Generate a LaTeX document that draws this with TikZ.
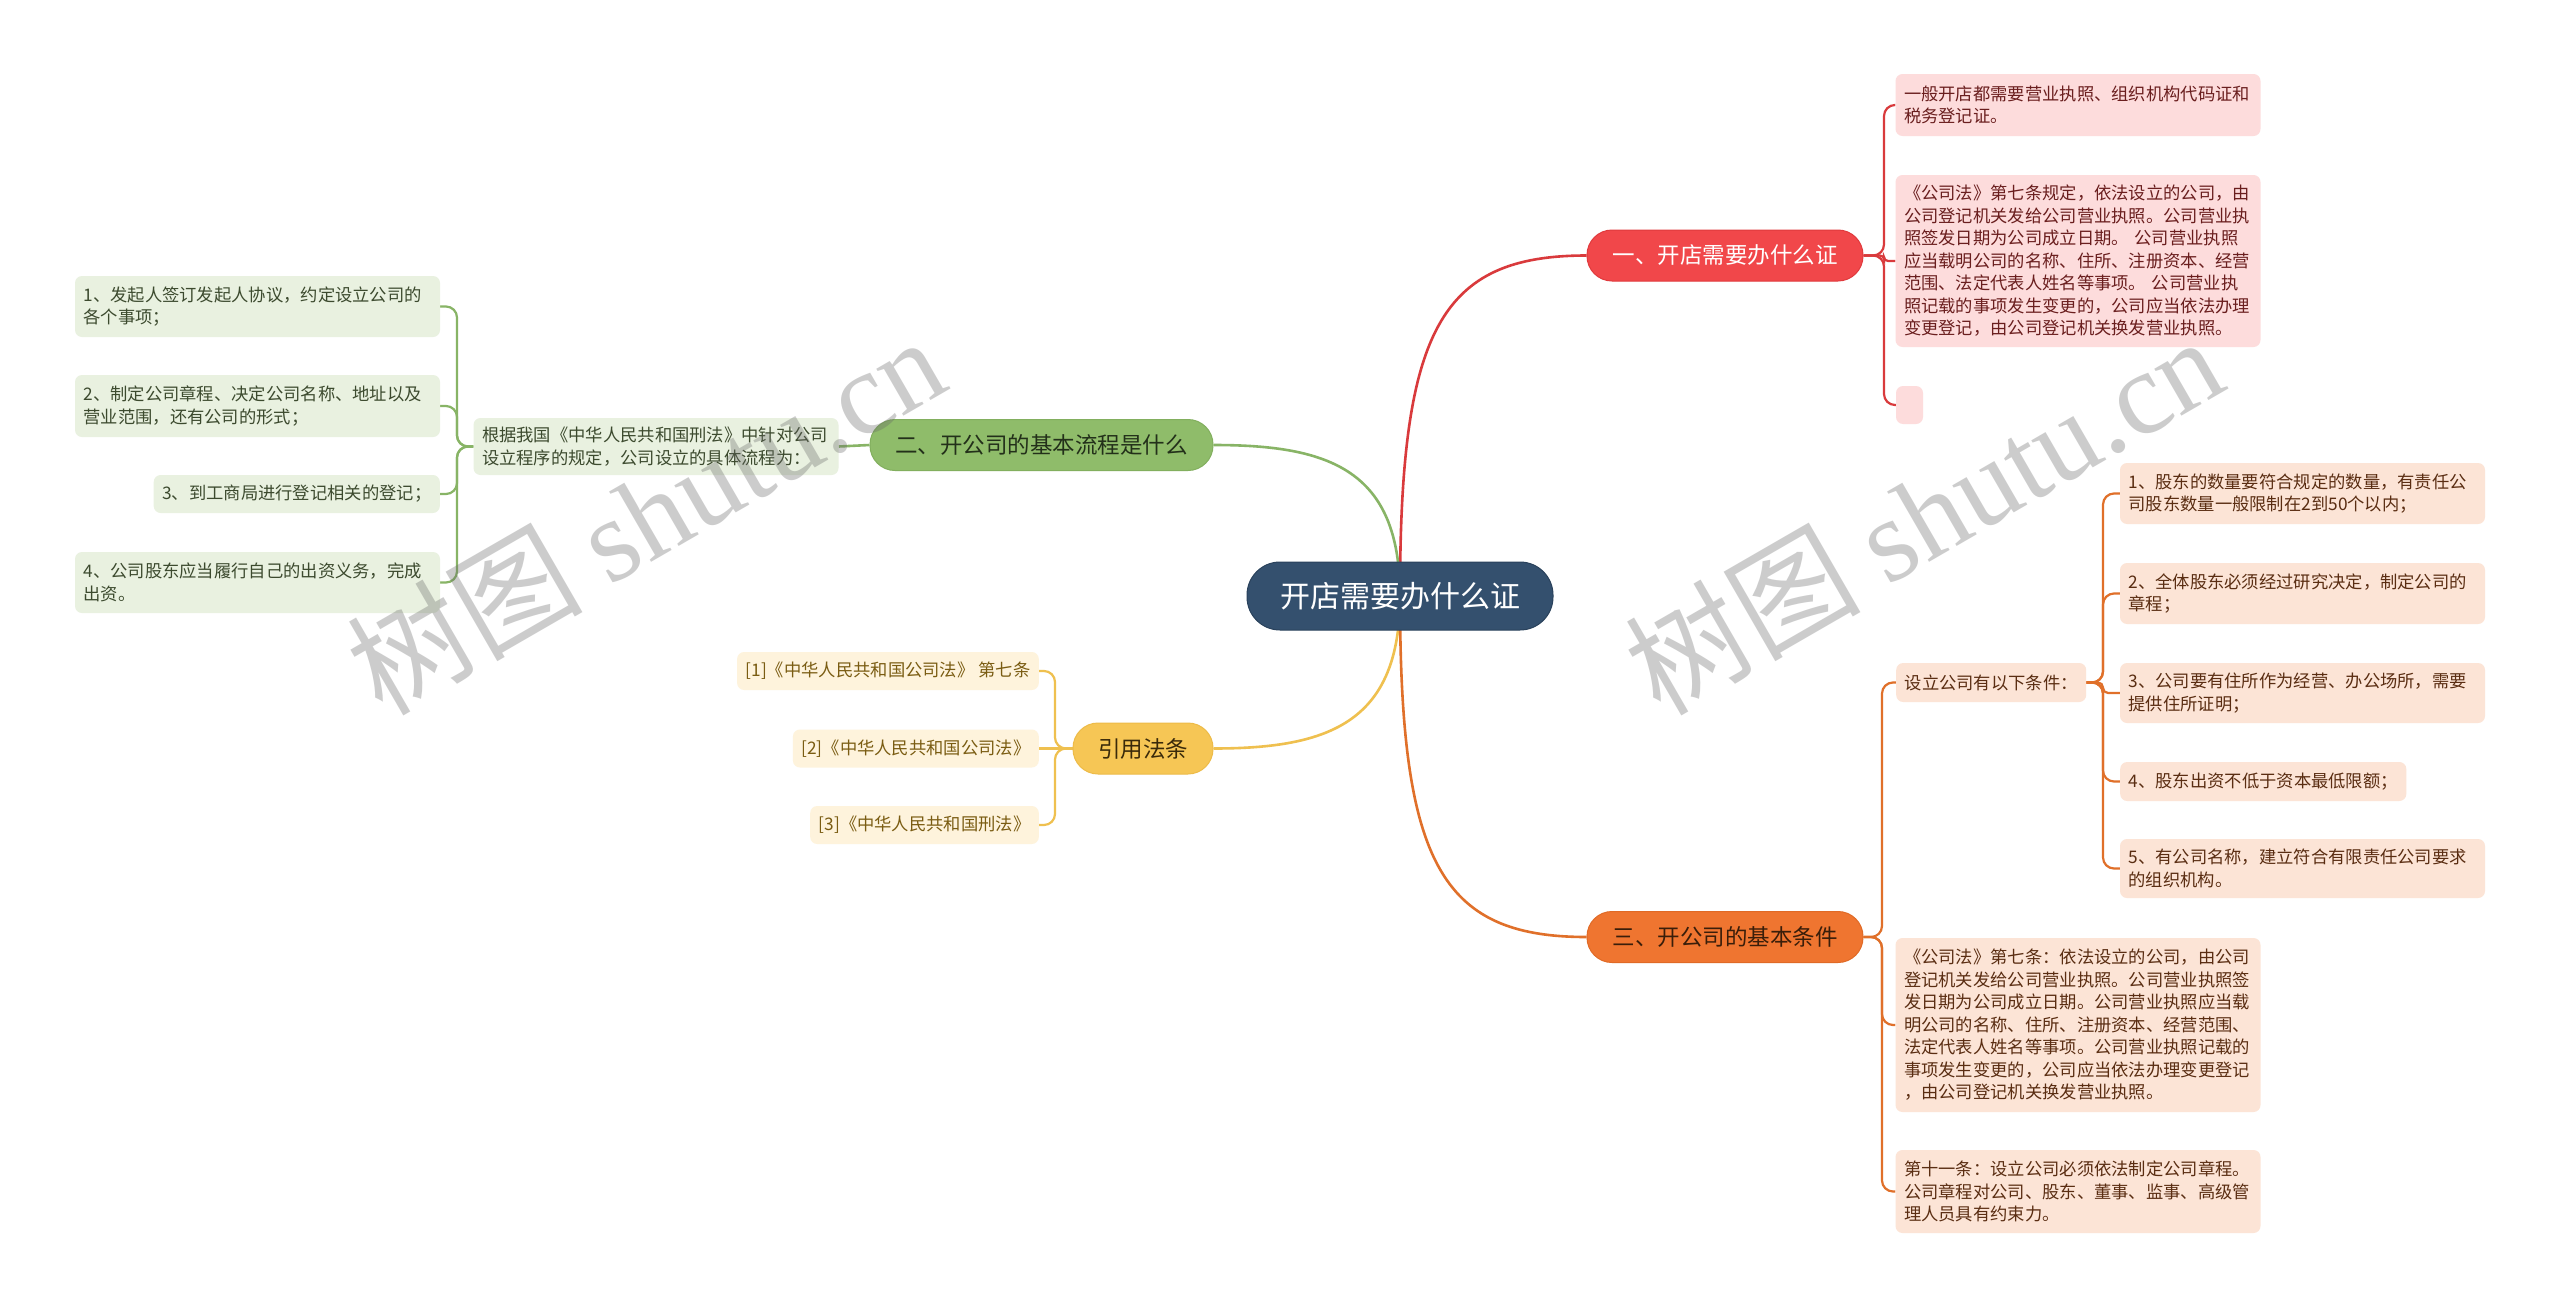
\documentclass[tikz,border=0pt]{standalone}
\usepackage{fontspec}
\setmainfont{Noto Sans CJK SC}
\newfontfamily\wmfont{Liberation Serif}
\usetikzlibrary{backgrounds}
\definecolor{cenF}{HTML}{34506E}
\definecolor{cenD}{HTML}{2A425C}
\definecolor{rF}{HTML}{F1474A}
\definecolor{rD}{HTML}{E03A3D}
\definecolor{rL}{HTML}{FDDCDC}
\definecolor{rT}{HTML}{6A1E1E}
\definecolor{rC}{HTML}{D93A3C}
\definecolor{gF}{HTML}{8FBC6A}
\definecolor{gD}{HTML}{82AF5E}
\definecolor{gL}{HTML}{E9F1E0}
\definecolor{gT}{HTML}{3C4A2E}
\definecolor{gC}{HTML}{88B466}
\definecolor{gB}{HTML}{23301A}
\definecolor{yF}{HTML}{F6C655}
\definecolor{yD}{HTML}{EDBB48}
\definecolor{yL}{HTML}{FEF3DC}
\definecolor{yT}{HTML}{7A5C12}
\definecolor{yC}{HTML}{EFC04F}
\definecolor{yB}{HTML}{3A2A0A}
\definecolor{oF}{HTML}{EF7530}
\definecolor{oD}{HTML}{E06A26}
\definecolor{oL}{HTML}{FCE4D6}
\definecolor{oT}{HTML}{5A2D12}
\definecolor{oC}{HTML}{E0702A}
\definecolor{oB}{HTML}{3A1E0A}
\begin{document}
\begin{tikzpicture}[x=1pt,y=-1pt,
  cnode/.style={fill=cenF, draw=cenD, line width=1pt, text=white, minimum width=306pt, minimum height=68pt, rounded corners=33pt, inner sep=0pt, font=\fontsize{30}{36}\selectfont},
  bnode/.style={minimum height=51pt, rounded corners=25pt, inner sep=0pt, line width=1pt, font=\fontsize{22.5}{27}\selectfont},
  leaf/.style={rounded corners=7pt, inner xsep=8.5pt, inner ysep=0pt, font=\fontsize{17.3}{22.5}\selectfont},
  mleaf/.style={leaf, text width=348pt, align=left},
  rl/.style={fill=rL, text=rT},
  gl/.style={fill=gL, text=gT},
  yl/.style={fill=yL, text=yT},
  ol/.style={fill=oL, text=oT},
  rline/.style={draw=rC, line width=2.6pt},
  gline/.style={draw=gC, line width=2.6pt},
  yline/.style={draw=yC, line width=2.6pt},
  oline/.style={draw=oC, line width=2.6pt},
  brk/.style={rounded corners=11pt, line width=2.2pt},
  wm/.style={text=black!60, text opacity=0.33, font=\fontsize{118}{118}\selectfont, inner sep=0pt}
]
\useasboundingbox (0,0) rectangle (2560,1309);

% central and branches
\node[cnode] (c) at (1400,596) {开店需要办什么证};
\node[bnode, fill=rF, draw=rD, text=white, minimum width=276pt] (rb) at (1725,255.5) {一、开店需要办什么证};
\node[bnode, fill=gF, draw=gD, text=gB, minimum width=343pt] (gb) at (1041.5,445) {二、开公司的基本流程是什么};
\node[bnode, fill=yF, draw=yD, text=yB, minimum width=140pt] (yb) at (1143,748.5) {引用法条};
\node[bnode, fill=oF, draw=oD, text=oB, minimum width=276pt] (ob) at (1725,937) {三、开公司的基本条件};

% red leaves
\node[mleaf, rl, minimum height=62pt] (r1) at (2078,105) {一般开店都需要营业执照、组织机构代码证和\\税务登记证。};
\node[mleaf, rl, minimum height=172pt] (r2) at (2078,261) {《公司法》第七条规定，依法设立的公司，由\\公司登记机关发给公司营业执照。公司营业执\\照签发日期为公司成立日期。 公司营业执照\\应当载明公司的名称、住所、注册资本、经营\\范围、法定代表人姓名等事项。 公司营业执\\照记载的事项发生变更的，公司应当依法办理\\变更登记，由公司登记机关换发营业执照。};
\node[leaf, rl, inner xsep=0pt, minimum width=27pt, minimum height=38pt] (r3) at (1909.5,405) {};

% green leaves
\node[mleaf, gl, minimum height=57pt] (g0) at (656,446.5) {根据我国《中华人民共和国刑法》中针对公司\\设立程序的规定，公司设立的具体流程为：};
\node[mleaf, gl, minimum height=61pt] (g1) at (257.5,306.5) {1、发起人签订发起人协议，约定设立公司的\\各个事项；};
\node[mleaf, gl, minimum height=62pt] (g2) at (257.5,406) {2、制定公司章程、决定公司名称、地址以及\\营业范围，还有公司的形式；};
\node[leaf, gl, minimum height=38pt, anchor=east] (g3) at (440,494) {3、到工商局进行登记相关的登记；};
\node[mleaf, gl, minimum height=61pt] (g4) at (257.5,582.5) {4、公司股东应当履行自己的出资义务，完成\\出资。};

% yellow leaves
\node[leaf, yl, minimum height=38pt, anchor=east] (y1) at (1039,671) {[1]《中华人民共和国公司法》 第七条};
\node[leaf, yl, minimum height=38pt, anchor=east] (y2) at (1039,748.5) {[2]《中华人民共和国公司法》};
\node[leaf, yl, minimum height=38pt, anchor=east] (y3) at (1039,825) {[3]《中华人民共和国刑法》};

% orange leaves
\node[leaf, ol, minimum height=39pt, anchor=west] (o1) at (1896,682.5) {设立公司有以下条件：};
\node[mleaf, ol, minimum height=61pt] (k1) at (2302.5,493.5) {1、股东的数量要符合规定的数量，有责任公\\司股东数量一般限制在2到50个以内；};
\node[mleaf, ol, minimum height=61pt] (k2) at (2302.5,593.5) {2、全体股东必须经过研究决定，制定公司的\\章程；};
\node[mleaf, ol, minimum height=60pt] (k3) at (2302.5,693) {3、公司要有住所作为经营、办公场所，需要\\提供住所证明；};
\node[leaf, ol, minimum height=39pt, anchor=west] (k4) at (2120,781.5) {4、股东出资不低于资本最低限额；};
\node[mleaf, ol, minimum height=59pt] (k5) at (2302.5,868.5) {5、有公司名称，建立符合有限责任公司要求\\的组织机构。};
\node[mleaf, ol, minimum height=174pt] (o2) at (2078,1025) {《公司法》第七条：依法设立的公司，由公司\\登记机关发给公司营业执照。公司营业执照签\\发日期为公司成立日期。公司营业执照应当载\\明公司的名称、住所、注册资本、经营范围、\\法定代表人姓名等事项。公司营业执照记载的\\事项发生变更的，公司应当依法办理变更登记\\，由公司登记机关换发营业执照。};
\node[mleaf, ol, minimum height=83pt] (o3) at (2078,1191.5) {第十一条：设立公司必须依法制定公司章程。\\公司章程对公司、股东、董事、监事、高级管\\理人员具有约束力。};

% junctions
\coordinate (rj) at (1884,255.5);
\coordinate (gj) at (457,446.5);
\coordinate (yj) at (1055,748.5);
\coordinate (oj) at (1882,937);
\coordinate (kj) at (2103,682.5);

\begin{pgfonlayer}{background}
\fill[white] (0,0) rectangle (2560,1309);
\draw[rline] (c.center) .. controls (1400,330) and (1440,255.5) .. (rb.west);
\draw[gline] (c.center) .. controls (1400,470) and (1330,445) .. (gb.east);
\draw[yline] (c.center) .. controls (1400,722) and (1330,748.5) .. (yb.east);
\draw[oline] (c.center) .. controls (1400,862) and (1440,937) .. (ob.west);

\draw[rline, brk] (rb.east) -- (rj) |- (r1.west);
\draw[rline, brk, rounded corners=4pt] (rb.east) -- (rj) |- (r2.west);
\draw[rline, brk] (rb.east) -- (rj) |- (r3.west);

\draw[gline, brk] (g0.west) -- (gj) |- (g1.east);
\draw[gline, brk] (g0.west) -- (gj) |- (g2.east);
\draw[gline, brk] (g0.west) -- (gj) |- (g3.east);
\draw[gline, brk] (g0.west) -- (gj) |- (g4.east);

\draw[gline] (gb.west) -- (g0.east);

\draw[yline, brk] (yb.west) -- (yj) |- (y1.east);
\draw[yline, brk] (yb.west) -- (y2.east);
\draw[yline, brk] (yb.west) -- (yj) |- (y3.east);

\draw[oline, brk] (ob.east) -- (oj) |- (o1.west);
\draw[oline, brk] (ob.east) -- (oj) |- (o2.west);
\draw[oline, brk] (ob.east) -- (oj) |- (o3.west);

\draw[oline, brk] (o1.east) -- (kj) |- (k1.west);
\draw[oline, brk] (o1.east) -- (kj) |- (k2.west);
\draw[oline, brk, rounded corners=5pt] (o1.east) -- (kj) |- (k3.west);
\draw[oline, brk] (o1.east) -- (kj) |- (k4.west);
\draw[oline, brk] (o1.east) -- (kj) |- (k5.west);
\end{pgfonlayer}

% watermarks
\node[wm, rotate=30] (w1) at (645,514) {树图 {\wmfont shutu.cn}};
\node[wm, rotate=30] (w2) at (1923,514) {树图 {\wmfont shutu.cn}};
\end{tikzpicture}
\end{document}
